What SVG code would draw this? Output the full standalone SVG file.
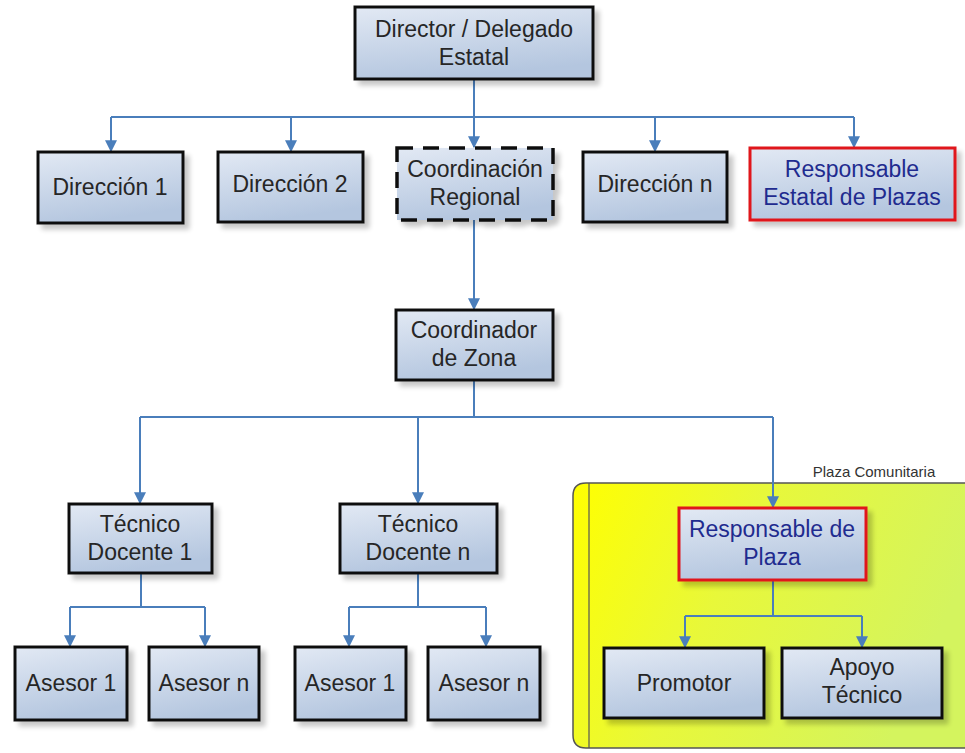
<svg xmlns="http://www.w3.org/2000/svg" width="965" height="753" viewBox="0 0 965 753">
<defs>
<linearGradient id="boxg" x1="0" y1="0" x2="0.3" y2="1">
<stop offset="0" stop-color="#e2e9f4"/>
<stop offset="1" stop-color="#b4c6df"/>
</linearGradient>
<linearGradient id="plazag" x1="0" y1="0" x2="1" y2="0.3">
<stop offset="0" stop-color="#ffff00"/>
<stop offset="0.45" stop-color="#e8f83a"/>
<stop offset="1" stop-color="#d4f45e"/>
</linearGradient>
<filter id="sh" x="-10%" y="-10%" width="130%" height="140%">
<feGaussianBlur in="SourceAlpha" stdDeviation="2.5"/>
<feOffset dx="5" dy="5" result="b"/>
<feComponentTransfer><feFuncA type="linear" slope="0.22"/></feComponentTransfer>
<feMerge><feMergeNode/><feMergeNode in="SourceGraphic"/></feMerge>
</filter>
<marker id="arr" viewBox="0 0 10 10" refX="9" refY="5" markerWidth="6" markerHeight="6" orient="auto" markerUnits="strokeWidth">
<path d="M0,0 L10,5 L0,10 z" fill="#4a7ebb"/>
</marker>
<style>
.box{fill:url(#boxg);stroke:#111;stroke-width:3;filter:url(#sh)}
.red{fill:url(#boxg);stroke:#e0161c;stroke-width:3;filter:url(#sh)}
.dash{fill:url(#boxg);stroke:#111;stroke-width:3.5;stroke-dasharray:16 10;filter:url(#sh)}
.t{font-family:"Liberation Sans",Arial,sans-serif;font-size:23px;fill:#262626;text-anchor:middle}
.tb{font-family:"Liberation Sans",Arial,sans-serif;font-size:23px;fill:#1f2b8f;text-anchor:middle}
.lbl{font-family:"Liberation Sans",Arial,sans-serif;font-size:15px;fill:#333;text-anchor:middle}
.c{fill:none;stroke:#4a7ebb;stroke-width:2}
.ca{fill:none;stroke:#4a7ebb;stroke-width:2;marker-end:url(#arr)}
</style>
</defs>
<rect width="965" height="753" fill="#ffffff"/>

<g id="plaza-comunitaria">
<path d="M586,483 L970,483 L970,748 L586,748 Q573,748 573,735 L573,496 Q573,483 586,483 Z" fill="url(#plazag)" stroke="#555" stroke-width="1.5"/>
<line x1="589" y1="483" x2="589" y2="748" stroke="#555" stroke-width="1.2"/>
<text class="lbl" x="874" y="477">Plaza Comunitaria</text>
</g>

<g id="connectors">
<path class="c" d="M474,79 V117 M111,117 H854"/>
<path class="ca" d="M111,117 V151"/>
<path class="ca" d="M291,117 V151"/>
<path class="ca" d="M474,117 V147"/>
<path class="ca" d="M655,117 V151"/>
<path class="ca" d="M854,117 V147"/>
<path class="ca" d="M474,220 V309"/>
<path class="c" d="M474,380 V417 M140,417 H773"/>
<path class="ca" d="M140,417 V503"/>
<path class="ca" d="M418,417 V503"/>
<path class="ca" d="M773,417 V507"/>
<path class="c" d="M141,573 V607 M70,607 H205"/>
<path class="ca" d="M70,607 V646"/>
<path class="ca" d="M205,607 V646"/>
<path class="c" d="M418,573 V607 M349,607 H486"/>
<path class="ca" d="M349,607 V646"/>
<path class="ca" d="M486,607 V646"/>
<path class="c" d="M773,580 V616 M685,616 H862"/>
<path class="ca" d="M685,616 V647"/>
<path class="ca" d="M862,616 V647"/>
</g>

<g id="director"><rect class="box" x="355" y="7" width="238" height="72"/><text class="t" x="474" y="37">Director / Delegado</text><text class="t" x="474" y="65">Estatal</text></g>
<g id="direccion1"><rect class="box" x="38" y="152" width="145" height="71"/><text class="t" x="110" y="195">Dirección 1</text></g>
<g id="direccion2"><rect class="box" x="218" y="152" width="145" height="70"/><text class="t" x="290" y="192">Dirección 2</text></g>
<g id="coordinacion-regional"><rect class="dash" x="397" y="148" width="156" height="72"/><text class="t" x="475" y="177">Coordinación</text><text class="t" x="475" y="205">Regional</text></g>
<g id="direccionn"><rect class="box" x="583" y="152" width="144" height="70"/><text class="t" x="655" y="192">Dirección n</text></g>
<g id="responsable-estatal"><rect class="red" x="750" y="148" width="205" height="72"/><text class="tb" x="852" y="177">Responsable</text><text class="tb" x="852" y="205">Estatal de Plazas</text></g>
<g id="coordinador-zona"><rect class="box" x="396" y="310" width="157" height="70"/><text class="t" x="474" y="338">Coordinador</text><text class="t" x="474" y="366">de Zona</text></g>
<g id="tecnico1"><rect class="box" x="69" y="504" width="143" height="69"/><text class="t" x="140" y="532">Técnico</text><text class="t" x="140" y="560">Docente 1</text></g>
<g id="tecnicon"><rect class="box" x="340" y="504" width="157" height="69"/><text class="t" x="418" y="532">Técnico</text><text class="t" x="418" y="560">Docente n</text></g>
<g id="responsable-plaza"><rect class="red" x="679" y="508" width="187" height="72"/><text class="tb" x="772" y="537">Responsable de</text><text class="tb" x="772" y="565">Plaza</text></g>
<g id="asesor1a"><rect class="box" x="15" y="647" width="112" height="73"/><text class="t" x="71" y="691">Asesor 1</text></g>
<g id="asesorna"><rect class="box" x="149" y="647" width="110" height="73"/><text class="t" x="204" y="691">Asesor n</text></g>
<g id="asesor1b"><rect class="box" x="295" y="647" width="111" height="73"/><text class="t" x="350" y="691">Asesor 1</text></g>
<g id="asesornb"><rect class="box" x="428" y="647" width="112" height="73"/><text class="t" x="484" y="691">Asesor n</text></g>
<g id="promotor"><rect class="box" x="604" y="648" width="160" height="70"/><text class="t" x="684" y="691">Promotor</text></g>
<g id="apoyo-tecnico"><rect class="box" x="782" y="648" width="160" height="70"/><text class="t" x="862" y="675">Apoyo</text><text class="t" x="862" y="703">Técnico</text></g>
</svg>
